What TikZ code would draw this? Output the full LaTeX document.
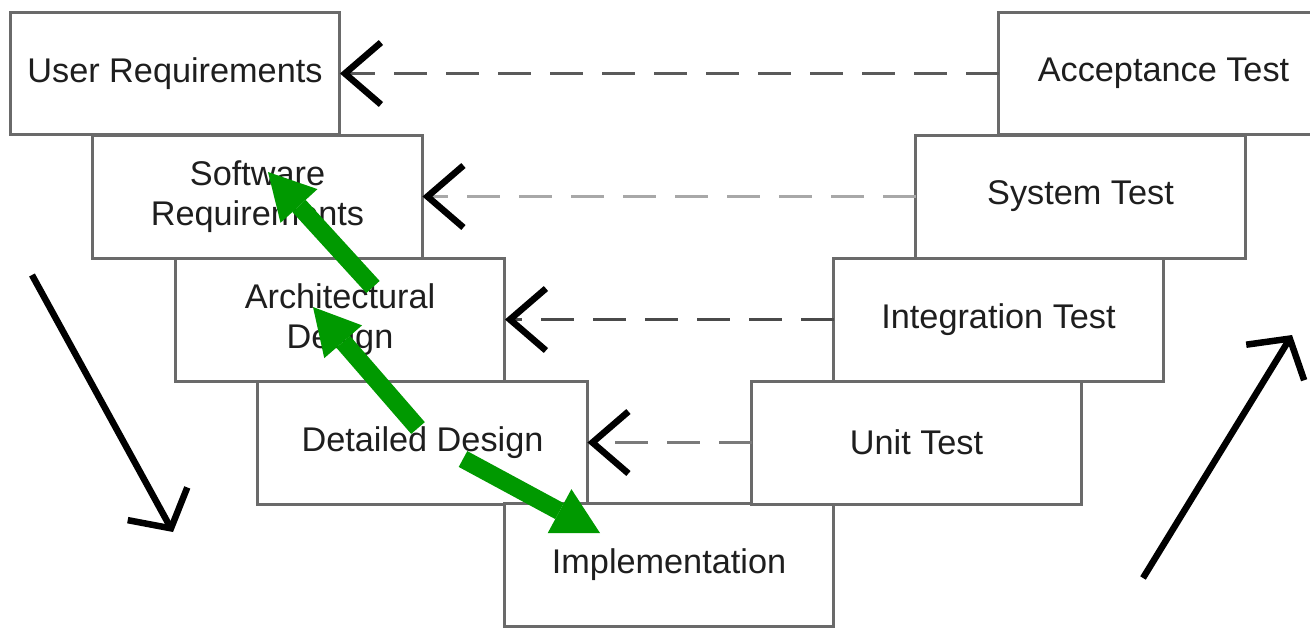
\documentclass[tikz,border=0pt]{standalone}
\usepackage{fontspec}
\setmainfont{Liberation Sans}
\usetikzlibrary{arrows.meta}
\definecolor{boxline}{HTML}{6A6A6A}
\definecolor{vgreen}{RGB}{0,153,0}
\definecolor{txt}{HTML}{1E1E1E}
\definecolor{rowA}{HTML}{5A5A5A}
\definecolor{rowB}{HTML}{A8A8A8}
\definecolor{rowC}{HTML}{4A4A4A}
\definecolor{rowD}{HTML}{7A7A7A}
\begin{document}
\begin{tikzpicture}[x=0.02cm, y=-0.02cm,
  stage/.style={draw=boxline, line width=0.06cm, fill=white,
    minimum width=6.6cm, minimum height=2.46cm, inner sep=0pt, outer sep=0pt,
    align=center, text=txt, font=\fontsize{19.5pt}{22.8pt}\selectfont},
  trace/.style={line width=0.07cm, dash pattern=on 0.66cm off 0.38cm,
    -{Straight Barb[length=0.72cm, width=1.24cm, line width=0.13cm, color=black]}},
  flow/.style={draw=vgreen, line width=0.36cm,
    -{Triangle[length=0.92cm, width=1.0cm, line width=0pt]}},
  phase/.style={draw=black, line width=0.13cm,
    -{Straight Barb[length=0.56cm, width=1.36cm]}}
]
\useasboundingbox (0,0) rectangle (1310,627);
\clip (0,0) rectangle (1310,627);

% left branch of the V
\node[stage] (ur) at (175,73.5) {User Requirements};
\node[stage] (sr) at (257.5,196.5) {Software\\Requirements};
\node[stage] (ad) at (340,319.5) {Architectural\\Design};
\node[stage] (dd) at (422.5,442.5) {Detailed Design};
\node[stage] (im) at (669,565) {Implementation};
% right branch of the V
\node[stage] (ut) at (916.5,442.5) {Unit Test};
\node[stage] (it) at (998.5,319.5) {Integration Test};
\node[stage] (st) at (1080.5,196.5) {System Test};
\node[stage] (acc) at (1163.5,73.5) {Acceptance Test};

% verification links
\draw[trace, draw=rowA] (acc.west) -- (ur.east);
\draw[trace, draw=rowB] (st.west) -- (sr.east);
\draw[trace, draw=rowC] (it.west) -- (ad.east);
\draw[trace, draw=rowD] (ut.west) -- (dd.east);

% green feedback / hand-off arrows
\coordinate (g1a) at (373,287);  \coordinate (g1b) at (268,172);
\coordinate (g2a) at (418,428);  \coordinate (g2b) at (313,307);
\coordinate (g3a) at (463,459);  \coordinate (g3b) at (600,533);
\draw[flow] (g1a) -- (g1b);
\draw[flow] (g2a) -- (g2b);
\draw[flow] (g3a) -- (g3b);

% direction of the two branches
\coordinate (d1) at (32,275);    \coordinate (d2) at (173,532);
\coordinate (u1) at (1143,578);  \coordinate (u2) at (1292,335);
\draw[phase] (d1) -- (d2);
\draw[phase] (u1) -- (u2);
\end{tikzpicture}
\end{document}
